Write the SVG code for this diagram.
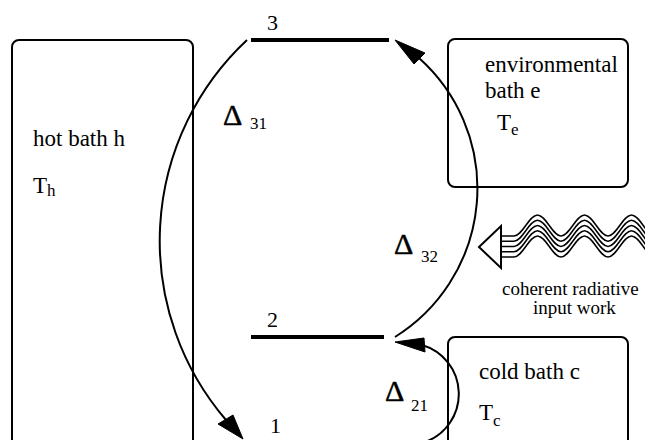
<svg xmlns="http://www.w3.org/2000/svg" width="645" height="440" viewBox="0 0 645 440">
<style>
.box{fill:none;stroke:#000;stroke-width:2}
.lvl{stroke:#000;stroke-width:4;fill:none}
.arc{fill:none;stroke:#000;stroke-width:2}
.head{fill:#000;stroke:#000;stroke-width:1;stroke-linejoin:miter}
.t{font-family:"Liberation Serif","Times New Roman",serif;fill:#000}
.big{font-size:23px}
.num{font-size:22px}
.del{font-size:30px;stroke:#000;stroke-width:0.5}
.sub{font-size:17px}
.small{font-size:19px}
.wave{fill:none;stroke:#000;stroke-width:1.5}
</style>
<defs>
<path id="w" class="wave" d="M502,236 H514 C522.6,236 528.9,215 537.5,215 S552.4,236 561,236 S575.9,215 584.5,215 S599.4,236 608,236 S622.9,215 631.5,215 S646.4,236 655,236"/>
</defs>
<g id="hot-bath">
<rect class="box" x="12" y="40" width="181" height="430" rx="7"/>
<text class="t big" x="33" y="146">hot bath h</text>
<text class="t big" x="33" y="193">T<tspan font-size="17" dy="3">h</tspan></text>
</g>
<g id="env-bath">
<rect class="box" x="448" y="39" width="180" height="148" rx="7"/>
<text class="t big" x="485" y="72">environmental</text>
<text class="t big" x="485" y="98">bath e</text>
<text class="t big" x="497" y="130">T<tspan font-size="17" dy="5">e</tspan></text>
</g>
<g id="cold-bath">
<rect class="box" x="448" y="337" width="180" height="130" rx="7"/>
<text class="t big" x="479" y="379">cold bath c</text>
<text class="t big" x="479" y="420">T<tspan font-size="17" dy="6">c</tspan></text>
</g>
<g id="level-3">
<path class="lvl" d="M251,40 H389"/>
<text class="t num" x="267" y="30">3</text>
</g>
<g id="level-2">
<path class="lvl" d="M251,337 H384"/>
<text class="t num" x="267" y="327">2</text>
</g>
<g id="level-1">
<text class="t num" x="270" y="433">1</text>
</g>
<g id="work-input">
<use href="#w"/>
<use href="#w" transform="translate(0,5.25)"/>
<use href="#w" transform="translate(0,10.5)"/>
<use href="#w" transform="translate(0,15.75)"/>
<use href="#w" transform="translate(0,21)"/>
<path d="M479,247 L501,226 L501,268 Z" fill="#fff" stroke="#000" stroke-width="2"/>
<text class="t small" x="502" y="295">coherent radiative</text>
<text class="t small" x="533" y="314">input work</text>
</g>
<g id="connectors">
<path class="arc" d="M247,40 A275,275 0 0 0 226,420"/>
<path class="head" d="M243,439 L218,424 L233,415 Z"/>
<path class="arc" d="M395,337 A175,175 0 0 0 419,58"/>
<path class="head" d="M395,40 L425,53 L414,64 Z"/>
<path class="arc" d="M425,442 A51,51 0 0 0 422,345"/>
<path class="head" d="M395,342 L424,338 L425,352 Z"/>
</g>
<g id="labels">
<text class="t del" x="223" y="125">Δ</text><text class="t sub" x="250" y="129">31</text>
<text class="t del" x="394" y="254">Δ</text><text class="t sub" x="421" y="262">32</text>
<text class="t del" x="385" y="401">Δ</text><text class="t sub" x="411" y="411">21</text>
</g>
</svg>
